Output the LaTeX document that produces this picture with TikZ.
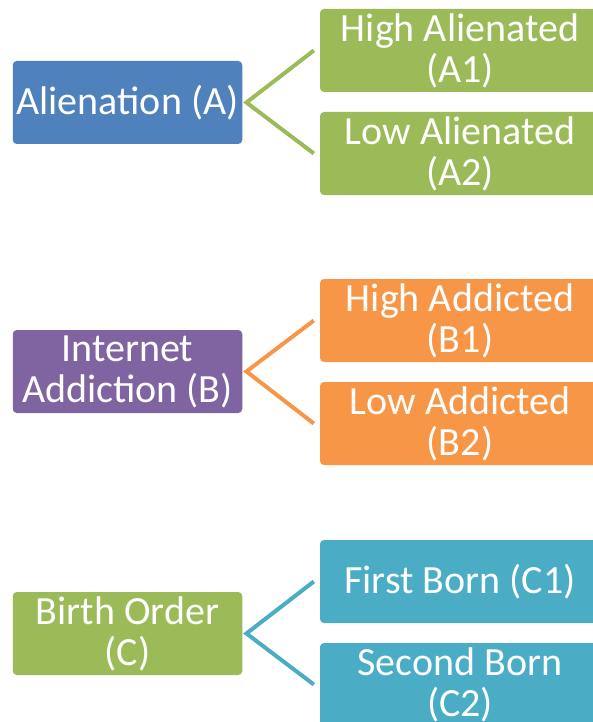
\documentclass[tikz,border=0pt]{standalone}
\usepackage{fontspec}
\setmainfont{Carlito}
\definecolor{cblue}{HTML}{4F81BD}
\definecolor{cgreen}{HTML}{9BBB59}
\definecolor{cpurple}{HTML}{8064A2}
\definecolor{corange}{HTML}{F79646}
\definecolor{cteal}{HTML}{4BACC6}
\tikzset{
  box/.style={rounded corners=4pt, inner sep=0pt, align=center, text=white,
    font=\fontsize{40}{41}\selectfont},
  parentbox/.style={box, minimum width=229.5pt, minimum height=83pt},
  childbox/.style={box, minimum width=280pt, minimum height=83pt},
  link/.style={line width=4pt, line join=miter}
}
\begin{document}
\begin{tikzpicture}[x=1pt,y=1pt]
\useasboundingbox (0,0) rectangle (593,-722);
% Row A
\node[parentbox, fill=cblue] (A) at (127.5,-102.5) {Alienation (A)};
\node[childbox, fill=cgreen] (A1) at (460,-50.5) {High Alienated\\(A1)};
\node[childbox, fill=cgreen] (A2) at (460,-153.5) {Low Alienated\\(A2)};
\draw[link, cgreen] ([xshift=-6pt]A1.west) -- ([xshift=4pt]A.east) -- ([xshift=-6pt]A2.west);
% Row B
\node[parentbox, fill=cpurple] (B) at (127.5,-371.5) {Internet\\Addiction (B)};
\node[childbox, fill=corange] (B1) at (460,-320.5) {High Addicted\\(B1)};
\node[childbox, fill=corange] (B2) at (460,-423.5) {Low Addicted\\(B2)};
\draw[link, corange] ([xshift=-6pt]B1.west) -- ([xshift=4pt]B.east) -- ([xshift=-6pt]B2.west);
% Row C
\node[parentbox, fill=cgreen] (C) at (127.5,-633.5) {Birth Order\\(C)};
\node[childbox, fill=cteal] (C1) at (460,-581.5) {First Born (C1)};
\node[childbox, fill=cteal] (C2) at (460,-684.5) {Second Born\\(C2)};
\draw[link, cteal] ([xshift=-6pt]C1.west) -- ([xshift=4pt]C.east) -- ([xshift=-6pt]C2.west);
\end{tikzpicture}
\end{document}
